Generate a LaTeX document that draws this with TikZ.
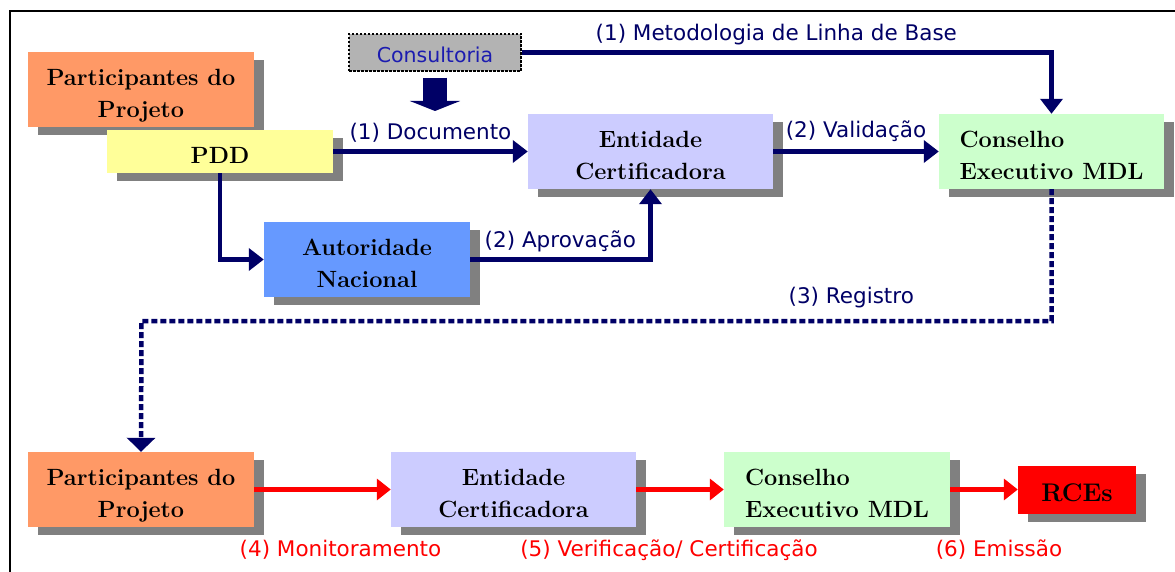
\documentclass[tikz,border=0pt]{standalone}
\usepackage{fontspec}
\setsansfont{DejaVu Sans}
\usepackage{tikz}
\usetikzlibrary{arrows.meta,shadows}
\definecolor{navy}{HTML}{000066}
\definecolor{consblue}{HTML}{1C1CB0}
\definecolor{orangebox}{HTML}{FF9966}
\definecolor{yellowbox}{HTML}{FFFF99}
\definecolor{lilacbox}{HTML}{CCCCFF}
\definecolor{greenbox}{HTML}{CCFFCC}
\definecolor{bluebox}{HTML}{6699FF}
\definecolor{shade}{HTML}{808080}

\begin{document}
\begin{tikzpicture}[x=1pt,y=-1pt,
  box/.style={inner sep=0pt,align=center,
    font=\fontsize{23.5}{32}\selectfont\bfseries,
    drop shadow={shadow xshift=10pt,shadow yshift=-8pt,fill=shade,opacity=1}},
  tallbox/.style={box,minimum height=75pt,execute at begin node={\rule[-7pt]{0pt}{70pt}}},
  flatbox/.style={box,execute at begin node={\rule{0pt}{25pt}}},
  lbl/.style={font=\sffamily\fontsize{21.5}{24}\selectfont,text=navy},
  redlbl/.style={font=\sffamily\fontsize{21.5}{24}\selectfont,text=red},
  flow/.style={draw=navy,line width=4.5pt,-{Triangle[length=15pt,width=22pt]}},
  redflow/.style={draw=red,line width=5pt,-{Triangle[length=14pt,width=21pt]}},
  regflow/.style={draw=navy,line width=4.5pt,dash pattern=on 6pt off 3pt,-{Triangle[length=14pt,width=28pt]}},
  fatarrow/.style={draw=navy,line width=24pt,-{Triangle[length=10pt,width=50pt]}}]
\useasboundingbox (0,0) rectangle (1175,572);
\draw[line width=2pt] (9.6,580) |- (1185,11);

\node[tallbox,fill=orangebox,minimum width=226pt] (partA) at (141,89.5) {Participantes do\\Projeto};
\node[flatbox,fill=yellowbox,minimum width=226pt,minimum height=43pt] (pdd) at (220,151.5) {PDD};
\node[draw,fill=shade!60,line width=2.5pt,dash pattern=on 2.5pt off 1.5pt,minimum width=172pt,minimum height=37pt,
  inner sep=0pt,font=\sffamily\fontsize{20.5}{24}\selectfont,text=consblue,
  execute at begin node={\rule{0pt}{20pt}}] (cons) at (435,52.5) {Consultoria};
\node[tallbox,fill=lilacbox,minimum width=245pt] (entA) at (650.5,151.5) {Entidade\\Certificadora};
\node[tallbox,fill=greenbox,minimum width=225pt,align=left] (cemA) at (1051.5,151.5) {Conselho\\Executivo MDL};
\node[tallbox,fill=bluebox,minimum width=206pt] (aut) at (367,259.5) {Autoridade\\Nacional};

\node[tallbox,fill=orangebox,minimum width=226pt] (partB) at (141,489.5) {Participantes do\\Projeto};
\node[tallbox,fill=lilacbox,minimum width=245pt] (entB) at (513.5,489.5) {Entidade\\Certificadora};
\node[tallbox,fill=greenbox,minimum width=226pt,align=left] (cemB) at (837,489.5) {Conselho\\Executivo MDL};
\node[flatbox,fill=red,minimum width=118pt,minimum height=48pt,font=\fontsize{25.5}{32}\selectfont\bfseries] (rce) at (1077,489.5) {RCEs};

\coordinate (hint) at (435,111);
\coordinate (regturn) at (141.5,321);

\draw[fatarrow] ([yshift=-5.5pt]cons.south) -- (hint);
\draw[flow] (cons.east) -| node[lbl,pos=0.24,above=2pt] {(1) Metodologia de Linha de Base} (cemA.north);
\draw[flow] (pdd.east) -- node[lbl,above=4pt] {(1) Documento} (entA.west);
\draw[flow] (pdd.south) |- (aut.west);
\draw[flow] (aut.east) -| node[lbl,pos=0.25,above=2pt] {(2) Aprovação} (entA.south);
\draw[flow] (entA.east) -- node[lbl,above=4pt] {(2) Validação} (cemA.west);
\draw[regflow] (cemA.south) |- node[lbl,pos=0.61,above=7pt] {(3) Registro} (regturn) -- (partB.north);

\draw[redflow] (partB.east) -- (entB.west);
\draw[redflow] (entB.east) -- (cemB.west);
\draw[redflow] (cemB.east) -- (rce.west);
\node[redlbl] (mon) at (340.5,550) {(4) Monitoramento};
\node[redlbl] (ver) at (669,550) {(5) Verificação/ Certificação};
\node[redlbl] (emi) at (999,550) {(6) Emissão};
\end{tikzpicture}
\end{document}
